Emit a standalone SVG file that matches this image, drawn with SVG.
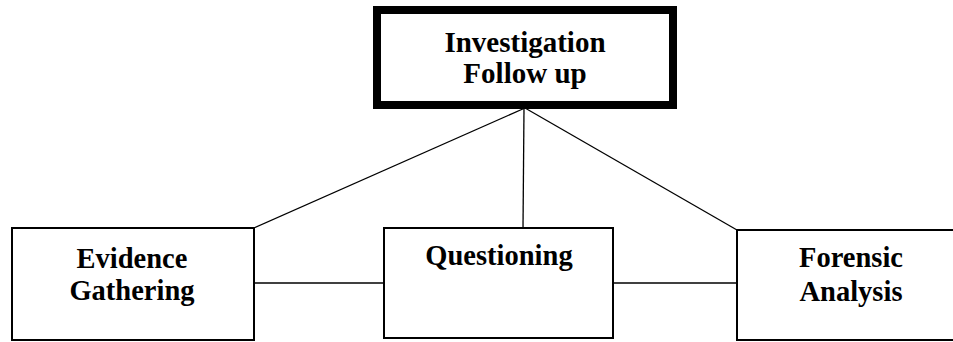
<svg xmlns="http://www.w3.org/2000/svg" width="953" height="342" viewBox="0 0 953 342">
<style>
.box{fill:#fff;stroke:#000;stroke-width:2}
.main{fill:#fff;stroke:#000;stroke-width:8}
.t{font-family:"Liberation Serif","Times New Roman",serif;font-weight:bold;font-size:29px;fill:#000;text-anchor:middle}
.s{font-family:"Liberation Serif","Times New Roman",serif;font-weight:bold;font-size:28.5px;fill:#000;text-anchor:middle}
.c{stroke:#000;stroke-width:1.3;fill:none}
</style>
<rect width="953" height="342" fill="#fff"/>
<g id="connectors">
<line class="c" x1="525" y1="108" x2="254" y2="228"/>
<line class="c" x1="524" y1="108" x2="523" y2="228"/>
<line class="c" x1="525" y1="108" x2="737" y2="230"/>
<line class="c" x1="254" y1="283" x2="384" y2="283"/>
<line class="c" x1="613" y1="283" x2="737" y2="283"/>
</g>
<g id="investigation">
<rect class="main" x="377" y="10" width="296" height="95"/>
<text class="t" x="525" y="52">Investigation</text>
<text class="t" x="525" y="83">Follow up</text>
</g>
<g id="evidence">
<rect class="box" x="12" y="228" width="242" height="112"/>
<text class="s" x="132" y="268">Evidence</text>
<text class="s" x="132" y="300">Gathering</text>
</g>
<g id="questioning">
<rect class="box" x="384" y="228" width="229" height="110"/>
<text class="s" x="499" y="265">Questioning</text>
</g>
<g id="forensic">
<rect class="box" x="737" y="230" width="230" height="110"/>
<text class="s" x="851" y="267">Forensic</text>
<text class="s" x="851" y="301">Analysis</text>
</g>
</svg>
